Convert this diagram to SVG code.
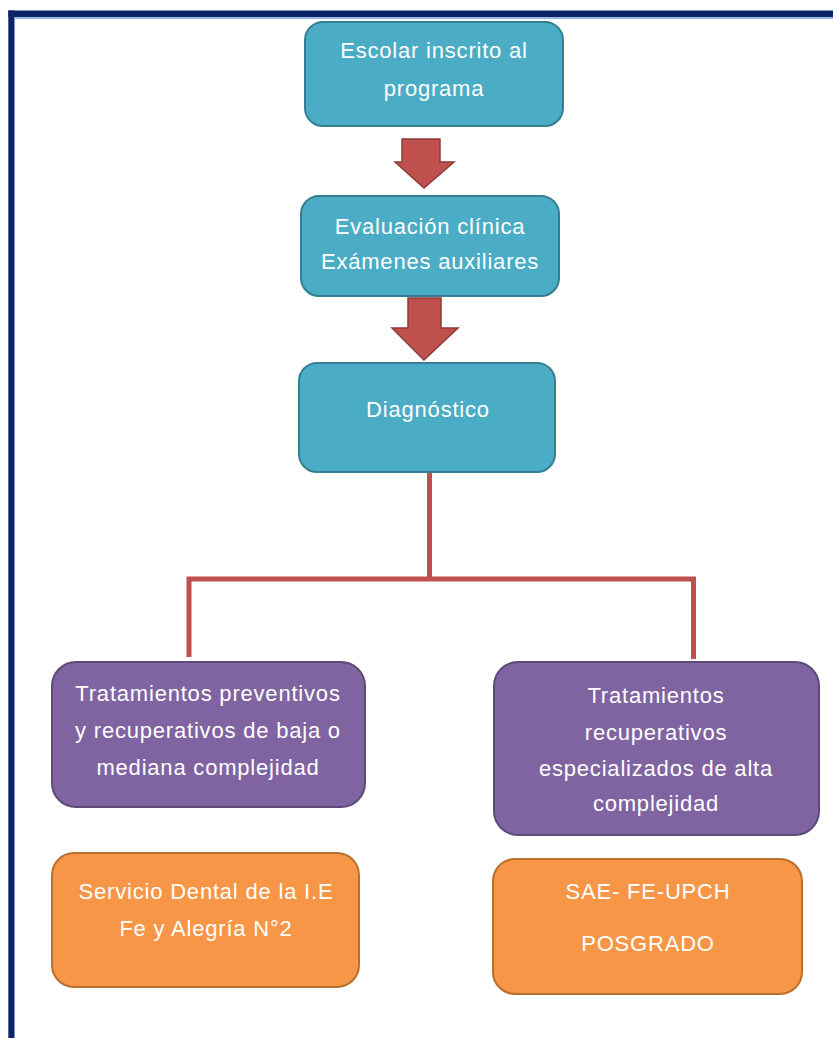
<svg xmlns="http://www.w3.org/2000/svg" width="833" height="1038" viewBox="0 0 833 1038">
<defs>
<style>
.t{font-family:"Liberation Sans","DejaVu Sans",sans-serif;font-size:22px;letter-spacing:0.8px;fill:#ffffff;text-anchor:middle}
.teal{fill:#4bacc6;stroke:#357f94;stroke-width:2}
.purple{fill:#8064a2;stroke:#5e4a78;stroke-width:2}
.orange{fill:#f79646;stroke:#b9702f;stroke-width:2}
.arrow{fill:#c0504d;stroke:#8e3a37;stroke-width:1.5}
.conn{fill:none;stroke:#c0504d;stroke-width:5}
</style>
</defs>
<rect width="833" height="1038" fill="#ffffff"/>
<g id="frame">
<rect x="8.3" y="10.5" width="824.7" height="6.7" fill="#0b2465"/>
<rect x="8.3" y="10.5" width="6.2" height="1027.5" fill="#0b2465"/>
<rect x="14.5" y="17.2" width="818.5" height="1.8" fill="#8eb4e3"/>
</g>
<g id="connectors">
<path class="arrow" d="M402 139 H440 V162 H454 L424 188 L395 162 H402 Z"/>
<path class="arrow" d="M408 298 H441 V328 H458 L424 360 L392 328 H408 Z"/>
<path class="conn" d="M429.5 472 V578 M189 657 V579 H693.5 V659"/>
</g>
<g id="n1">
<rect class="teal" x="305" y="22" width="258" height="104" rx="18"/>
<text class="t" x="434" y="58">Escolar inscrito al</text>
<text class="t" x="434" y="96">programa</text>
</g>
<g id="n2">
<rect class="teal" x="301" y="196" width="258" height="100" rx="18"/>
<text class="t" x="430" y="234">Evaluación clínica</text>
<text class="t" x="430" y="269">Exámenes auxiliares</text>
</g>
<g id="n3">
<rect class="teal" x="299" y="363" width="256" height="109" rx="18"/>
<text class="t" x="428" y="417">Diagnóstico</text>
</g>
<g id="n4">
<rect class="purple" x="52" y="662" width="313" height="145" rx="24"/>
<text class="t" x="208" y="701">Tratamientos preventivos</text>
<text class="t" x="208" y="738">y recuperativos de baja o</text>
<text class="t" x="208" y="775">mediana complejidad</text>
</g>
<g id="n5">
<rect class="purple" x="494" y="662" width="325" height="173" rx="24"/>
<text class="t" x="656" y="703">Tratamientos</text>
<text class="t" x="656" y="740">recuperativos</text>
<text class="t" x="656" y="776">especializados de alta</text>
<text class="t" x="656" y="811">complejidad</text>
</g>
<g id="n6">
<rect class="orange" x="52" y="853" width="307" height="134" rx="22"/>
<text class="t" x="206" y="899">Servicio Dental de la I.E</text>
<text class="t" x="206" y="936">Fe y Alegría N°2</text>
</g>
<g id="n7">
<rect class="orange" x="493" y="859" width="309" height="135" rx="22"/>
<text class="t" x="648" y="899">SAE- FE-UPCH</text>
<text class="t" x="648" y="951">POSGRADO</text>
</g>
</svg>
